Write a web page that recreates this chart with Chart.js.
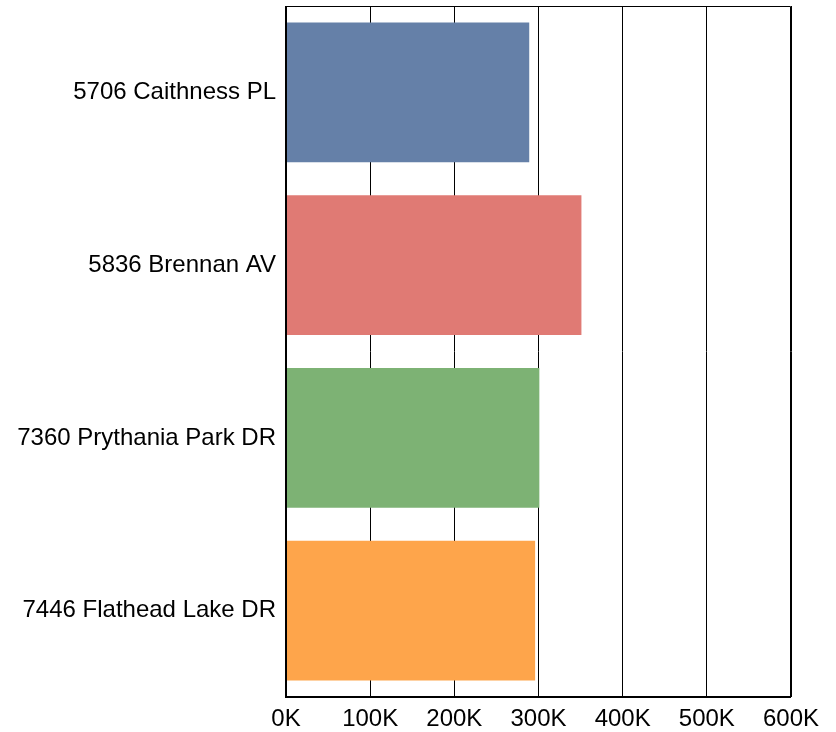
<!DOCTYPE html>
<html>
<head>
<meta charset="utf-8">
<script src="https://cdn.jsdelivr.net/npm/chart.js@4/dist/chart.umd.min.js"></script>
<style>
    html, body { margin: 0; padding: 0; background: #fff; }
    #wrap { width: 836px; height: 732px; position: relative; }
</style>
</head>
<body>
<div id="wrap"><canvas id="barChart"></canvas></div>
<script>
    // data
    var categories = ['5706 Caithness PL', '5836 Brennan AV', '7360 Prythania Park DR', '7446 Flathead Lake DR'];
    var values = [289000, 351000, 301000, 296000];
    var barColors = ['#6580a8', '#e07a74', '#7db274', '#fea54b'];
    var tickStep = 100000;
    var axisMax = 600000;

    // draws the box round the plot area
    var frame = {
        id: 'frame',
        afterDraw: function (chart) {
            var a = chart.chartArea;
            var ctx = chart.ctx;
            ctx.save();
            ctx.strokeStyle = '#000';
            ctx.lineWidth = 1;
            ctx.beginPath();
            ctx.moveTo(a.left, a.top + 0.5);
            ctx.lineTo(a.right - 0.5, a.top + 0.5);
            ctx.lineTo(a.right - 0.5, a.bottom);
            ctx.stroke();
            ctx.lineWidth = 2;
            ctx.beginPath();
            ctx.moveTo(a.left, a.top);
            ctx.lineTo(a.left, a.bottom);
            ctx.lineTo(a.right, a.bottom);
            ctx.stroke();
            ctx.restore();
        }
    };

    var labelFont = { family: 'Liberation Sans, Arial, sans-serif', size: 24 };

    var ctx = document.getElementById('barChart').getContext('2d');
    new Chart(ctx, {
        type: 'bar',
        data: {
            labels: categories,
            datasets: [{
                data: values,
                backgroundColor: barColors,
                borderWidth: 0,
                categoryPercentage: 0.9,
                barPercentage: 0.9
            }]
        },
        options: {
            indexAxis: 'y',
            responsive: true,
            maintainAspectRatio: false,
            animation: false,
            layout: { padding: { top: 6, right: 45, bottom: 0, left: 0 } },
            plugins: {
                legend: { display: false },
                tooltip: { enabled: false }
            },
            scales: {
                x: {
                    min: 0,
                    max: axisMax,
                    afterFit: function (scale) {
                        scale.height = 35;
                        scale.paddingLeft = 0;
                        scale.paddingRight = 0;
                    },
                    ticks: {
                        stepSize: tickStep,
                        color: '#000',
                        padding: 8,
                        maxRotation: 0,
                        font: labelFont,
                        callback: function (v) { return (v / 1000) + 'K'; }
                    },
                    grid: { color: '#000', lineWidth: 1, drawTicks: false },
                    border: { display: false }
                },
                y: {
                    afterFit: function (scale) {
                        scale.width = 286;
                        scale.paddingTop = 0;
                        scale.paddingBottom = 0;
                    },
                    ticks: {
                        color: '#000',
                        padding: 2,
                        font: labelFont
                    },
                    grid: { display: false },
                    border: { display: false }
                }
            }
        },
        plugins: [frame]
    });
</script>
</body>
</html>
